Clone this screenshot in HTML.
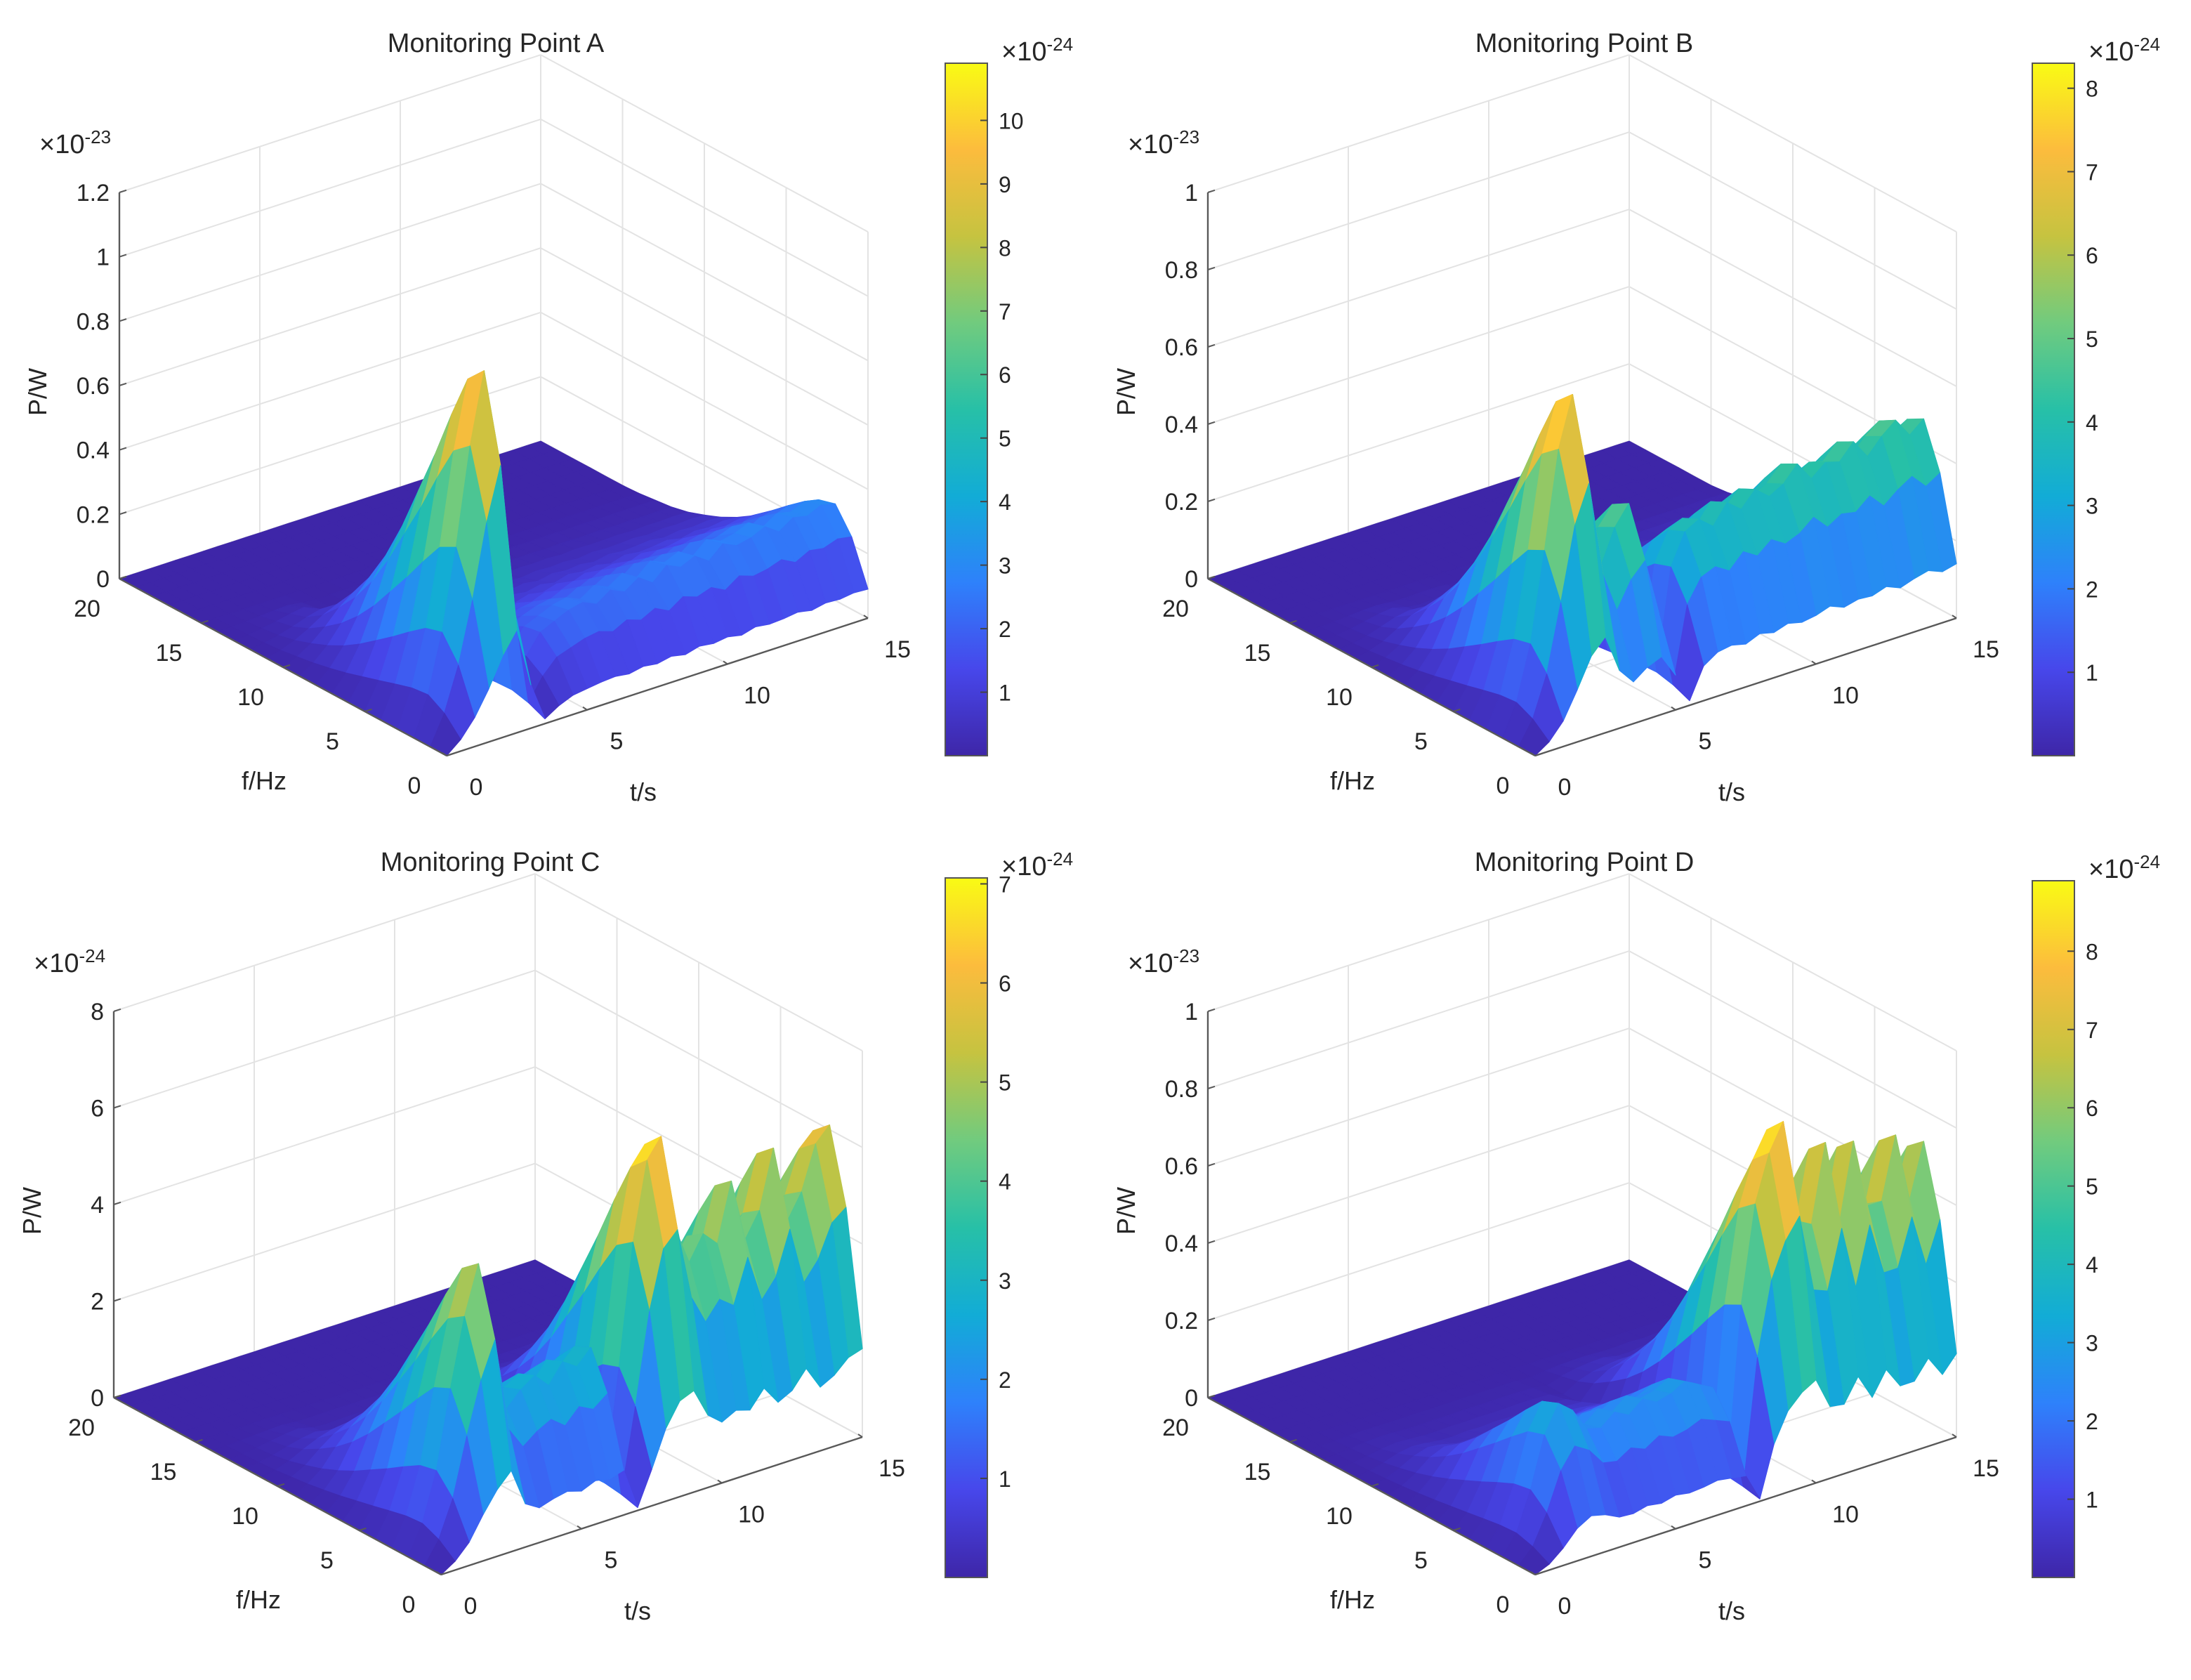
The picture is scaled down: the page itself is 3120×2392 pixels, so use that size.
<!DOCTYPE html>
<html><head><meta charset="utf-8"><style>
html,body{margin:0;padding:0;background:#fff}
svg{display:block}
text{font-family:"Liberation Sans",sans-serif;fill:#262626}
</style></head><body>
<svg id="fig" width="3120" height="2392" viewBox="0 0 1560 1196" xmlns="http://www.w3.org/2000/svg"></svg>
<script>
// ---- data ----
const freqs = [0,1,2,3,4,5,6,7,8,9,10,11,12,13,14,15,16,17,18,19,20];
const times = [0,0.5,1,1.5,2,2.5,3,3.5,4,4.5,5,5.5,6,6.5,7,7.5,8,8.5,9,9.5,10,10.5,11,11.5,12,12.5,13,13.5,14,14.5,15];
const specShape = [0.3,0.75,1.0,0.95,0.82,0.68,0.55,0.42,0.31,0.22,0.15,0.09,0.05,0.03,0.01,0,0,0,0,0,0];
const envA = [0,0.12,0.3,0.55,0.85,1.07,0.45,0.05,0.14,0.2,0.22,0.24,0.25,0.23,0.26,0.24,0.27,0.24,0.28,0.26,0.28,0.25,0.29,0.27,0.28,0.3,0.27,0.3,0.29,0.31,0.3];
const envB = [0,0.08,0.22,0.45,0.7,0.83,0.5,0.36,0.45,0.5,0.3,0.04,0.3,0.38,0.4,0.37,0.42,0.39,0.43,0.4,0.42,0.46,0.41,0.44,0.43,0.47,0.42,0.46,0.49,0.44,0.47];
const envC = [0,0.6,1.6,3.2,4.6,5.6,3.0,2.4,2.7,2.9,2.6,3.0,2.8,3.1,0.2,2.5,5.0,6.6,7.0,5.0,4.2,4.7,4.4,5.6,4.3,4.8,6.0,4.4,4.9,5.8,6.1];
const envD = [0,0.05,0.15,0.28,0.35,0.32,0.26,0.25,0.28,0.26,0.29,0.27,0.28,0.3,0.28,0.26,0.02,0.45,0.7,0.82,0.89,0.62,0.6,0.8,0.58,0.78,0.6,0.6,0.76,0.58,0.72];
const zTicksA = [0,0.2,0.4,0.6,0.8,1,1.2];
const zTicksB = [0,0.2,0.4,0.6,0.8,1];
const zTicksC = [0,2,4,6,8];
const zTicksD = [0,0.2,0.4,0.6,0.8,1];
const fTicks = [0,5,10,15,20];
const tTicks = [0,5,10,15];
const cbTicksA = [1,2,3,4,5,6,7,8,9,10];
const cbTicksB = [1,2,3,4,5,6,7,8];
const cbTicksC = [1,2,3,4,5,6,7];
const cbTicksD = [1,2,3,4,5,6,7,8];

const panels = [
 {id:'a',title:'Monitoring Point A',ox:0,oy:0,zmax:1.2,zt:zTicksA,zexp:'-23',env:envA,mult:10,cbMax:10.9,cbT:cbTicksA,cbX:673,cbY0:45,cbY1:538},
 {id:'b',title:'Monitoring Point B',ox:775,oy:0,zmax:1,zt:zTicksB,zexp:'-23',env:envB,mult:10,cbMax:8.3,cbT:cbTicksB,cbX:1447,cbY0:45,cbY1:538},
 {id:'c',title:'Monitoring Point C',ox:-4,oy:583,zmax:8,zt:zTicksC,zexp:'-24',env:envC,mult:1,cbMax:7.06,cbT:cbTicksC,cbX:673,cbY0:625,cbY1:1123},
 {id:'d',title:'Monitoring Point D',ox:775,oy:583,zmax:1,zt:zTicksD,zexp:'-23',env:envD,mult:10,cbMax:8.9,cbT:cbTicksD,cbX:1447,cbY0:627,cbY1:1123}
];

const parula = [[62,38,168],[71,71,235],[46,129,251],[18,172,214],[39,192,167],[113,203,126],[198,195,64],[252,188,61],[249,251,20]];
function cmap(v){v=Math.max(0,Math.min(1,v));const p=v*(parula.length-1);const i=Math.min(parula.length-2,Math.floor(p));const r=p-i;
 const a=parula[i],b=parula[i+1];return 'rgb('+a.map((c,k)=>Math.round(c+(b[k]-c)*r)).join(',')+')';}

const NS='http://www.w3.org/2000/svg';
const svg=document.getElementById('fig');
function el(tag,attrs,parent){const e=document.createElementNS(NS,tag);for(const k in attrs)e.setAttribute(k,attrs[k]);(parent||svg).appendChild(e);return e;}

panels.forEach(P=>{
 const g=el('g',{});
 
 
 const Ox=318+P.ox, Oy=538+P.oy, zs=275/P.zmax;
 const proj=(f,t,z)=>[Ox-11.65*f+20*t, Oy-6.3*f-6.53*t-z*zs];
 const line=(a,b,col,w,name)=>{const l=el('line',{x1:a[0],y1:a[1],x2:b[0],y2:b[1],stroke:col,'stroke-width':w},g);
  return l;};
 const gc='#e3e3e3';
 P.zt.forEach(z=>{line(proj(20,0,z),proj(20,15,z),gc,1,'grid-z');line(proj(20,15,z),proj(0,15,z),gc,1,'grid-z');});
 tTicks.forEach(t=>{line(proj(20,t,0),proj(20,t,P.zmax),gc,1,'grid-t');line(proj(0,t,0),proj(20,t,0),gc,1,'grid-t-floor');});
 fTicks.forEach(f=>{line(proj(f,15,0),proj(f,15,P.zmax),gc,1,'grid-f');line(proj(f,0,0),proj(f,15,0),gc,1,'grid-f-floor');});
 const quads=[];
 for(let i=0;i<freqs.length-1;i++)for(let j=0;j<times.length-1;j++){
  const z=(a,b)=>P.env[b]*specShape[a];
  const pts=[[i,j],[i+1,j],[i+1,j+1],[i,j+1]].map(([a,b])=>proj(freqs[a],times[b],z(a,b)));
  const zavg=(z(i,j)+z(i+1,j)+z(i+1,j+1)+z(i,j+1))/4;
  const depth=6.3*(freqs[i]+freqs[i+1])+6.53*(times[j]+times[j+1]);
  quads.push({pts,zavg,depth});
 }
 quads.sort((a,b)=>b.depth-a.depth);
 const sg=el('g',{},g);
 
 
 quads.forEach(q=>{const c=cmap(q.zavg*P.mult/P.cbMax);
  const p=el('polygon',{points:q.pts.map(p=>p[0].toFixed(1)+','+p[1].toFixed(1)).join(' '),fill:c,stroke:c,'stroke-width':0.6,'stroke-linejoin':'round'},sg);
  
  });
 const ac='#595959';
 line(proj(20,0,0),proj(20,0,P.zmax),ac,1.2,'z-axis');
 line(proj(20,0,0),proj(0,0,0),ac,1.2,'f-axis');
 line(proj(0,0,0),proj(0,15,0),ac,1.2,'t-axis');
 P.zt.forEach(z=>{const a=proj(20,0,z);line(a,[a[0]+5,a[1]-1.6],ac,1,'z-tick');
  const tx=el('text',{x:a[0]-7,y:a[1]+6,'text-anchor':'end','font-size':17},g);tx.textContent=z;
  });
 fTicks.forEach(f=>{const a=proj(f,0,0);line(a,[a[0]+5,a[1]-1.6],ac,1,'f-tick');
  const tx=el('text',{x:a[0]-23,y:a[1]+27,'text-anchor':'middle','font-size':17},g);tx.textContent=f;
  });
 tTicks.forEach(t=>{const a=proj(0,t,0);line(a,[a[0]-3,a[1]-2],ac,1,'t-tick');
  const tx=el('text',{x:a[0]+21,y:a[1]+28,'text-anchor':'middle','font-size':17},g);tx.textContent=t;
  });
 const lab=(x,y,s,name,extra)=>{const t=el('text',Object.assign({x,y,'text-anchor':'middle','font-size':18},extra||{}),g);t.textContent=s;
  return t;};
 lab(353+P.ox,37+P.oy,'Monitoring Point '+P.id.toUpperCase(),'title',{'font-size':19});
 lab(188+P.ox,562+P.oy,'f/Hz','f-axis-title');
 lab(458+P.ox,570+P.oy,'t/s','t-axis-title');
 lab(33+P.ox,279+P.oy,'P/W','z-axis-title',{transform:'rotate(-90 '+(33+P.ox)+' '+(279+P.oy)+')'});
 const ex=el('text',{x:28+P.ox,y:109+P.oy,'font-size':19},g);
 
 ex.innerHTML='×10<tspan dy="-7" font-size="13">'+P.zexp+'</tspan>';
 const cg=el('g',{},g);
 
 
 const gid='grad'+P.id;
 const defs=el('defs',{},cg);
 const lg=el('linearGradient',{id:gid,x1:0,y1:1,x2:0,y2:0},defs);
 parula.forEach((c,k)=>el('stop',{offset:(k/(parula.length-1)),'stop-color':'rgb('+c.join(',')+')'},lg));
 el('rect',{x:P.cbX,y:P.cbY0,width:30,height:P.cbY1-P.cbY0,fill:'url(#'+gid+')',stroke:'#555','stroke-width':1},cg);
 const cy=v=>P.cbY1-v/P.cbMax*(P.cbY1-P.cbY0);
 P.cbT.forEach(v=>{const y=cy(v);
  const tk=el('line',{x1:P.cbX+30,y1:y,x2:P.cbX+25,y2:y,stroke:'#444','stroke-width':1},cg);
  
  const tx=el('text',{x:P.cbX+38,y:y+6,'font-size':16},cg);tx.textContent=v;
  });
 const ce=el('text',{x:P.cbX+40,y:P.cbY0-2,'font-size':19},cg);
 
 ce.innerHTML='×10<tspan dy="-7" font-size="13">-24</tspan>';
});
</script>
</body></html>
